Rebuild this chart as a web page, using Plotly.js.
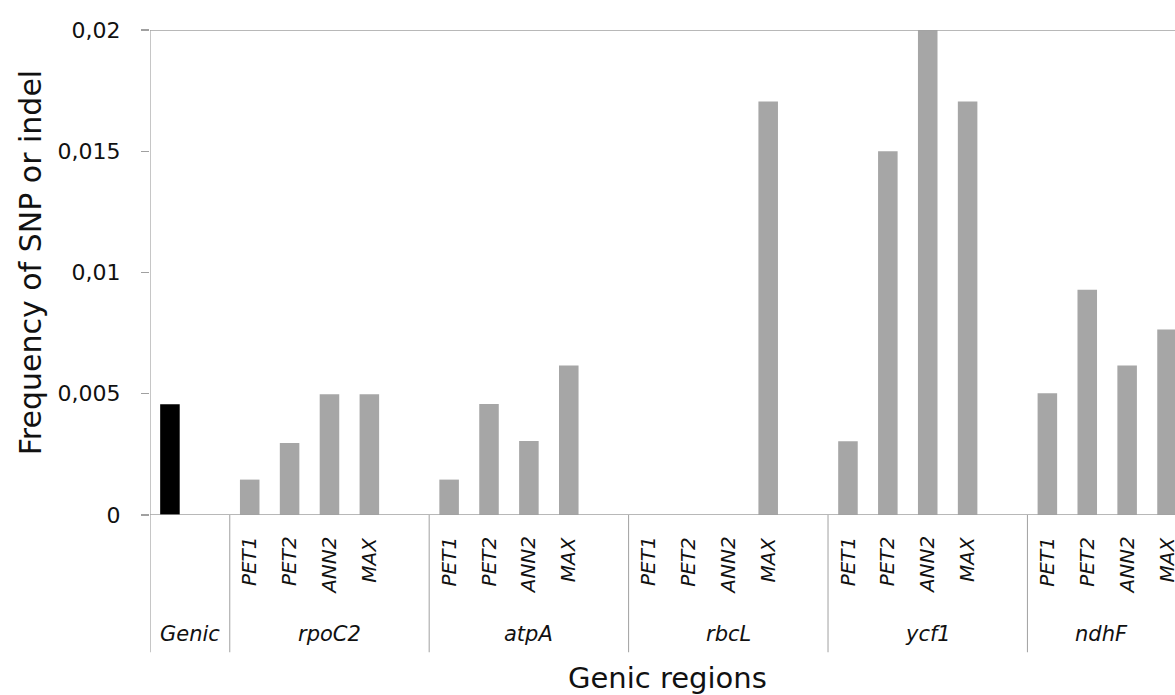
<!DOCTYPE html>
<html>
<head>
<meta charset="utf-8">
<script src="https://cdn.plot.ly/plotly-3.0.1.min.js"></script>
<style>html,body{margin:0;padding:0;background:#fff;}#chart{width:1175px;height:695px;}</style>
</head>
<body>
<div id="chart"></div>
<script>
// ---- data ----
var groupNames = ['rpoC2', 'atpA', 'rbcL', 'ycf1', 'ndhF'];
var subLabels = ['PET1', 'PET2', 'ANN2', 'MAX'];
var genicLabel = 'Genic';
var genicValue = [0.00457];
var rpoC2 = [0.00146, 0.00297, 0.00498, 0.00498];
var atpA = [0.00146, 0.00458, 0.00305, 0.00617];
var rbcL = [0, 0, 0, 0.01705];
var ycf1 = [0.00304, 0.0150, 0.0200, 0.01705];
var ndhF = [0.00502, 0.00929, 0.00617, 0.00765];
var yTickVals = [0, 0.005, 0.01, 0.015, 0.02];
var yTickText = ['0', '0,005', '0,01', '0,015', '0,02'];
var yTitle = 'Frequency of SNP or indel';
var xTitle = 'Genic regions';

var groupValues = [rpoC2, atpA, rbcL, ycf1, ndhF];

// ---- build ----
var FONT = 'DejaVu Sans';
var TXT = '#111111';
var LINE = '#a0a0a0';
var xMin = -0.5, xMax = 25.2;
var slotsPerGroup = 5;
var firstGroupSlot = 2;

var gx = [], gy = [];
var annotations = [];
var shapes = [];
var subY = -0.040;
var groupY = -0.246;
var divBottom = -0.283;

groupValues.forEach(function (vals, g) {
  vals.forEach(function (v, i) {
    var x = firstGroupSlot + g * slotsPerGroup + i;
    gx.push(x); gy.push(v);
    annotations.push({
      x: x, y: subY, xref: 'x', yref: 'paper', text: subLabels[i],
      showarrow: false, textangle: -90, xanchor: 'center', yanchor: 'top',
      font: {family: FONT, size: 20, style: 'italic', color: TXT}
    });
  });
  var lo = firstGroupSlot - 0.5 + g * slotsPerGroup;
  var hi = lo + slotsPerGroup;
  var c = (Math.max(lo, xMin) + Math.min(hi, xMax)) / 2;
  annotations.push({
    x: c, y: groupY, xref: 'x', yref: 'paper', text: groupNames[g],
    showarrow: false, xanchor: 'center', yanchor: 'middle',
    font: {family: FONT, size: 21, style: 'italic', color: TXT}
  });
  shapes.push({type: 'line', xref: 'x', yref: 'paper', x0: lo, x1: lo, y0: divBottom, y1: 0,
    line: {color: LINE, width: 1}});
});

annotations.push({
  x: 0.5, y: groupY, xref: 'x', yref: 'paper', text: genicLabel,
  showarrow: false, xanchor: 'center', yanchor: 'middle',
  font: {family: FONT, size: 21, style: 'italic', color: TXT}
});
annotations.push({
  x: -0.1171, y: 0.521, xref: 'paper', yref: 'paper', text: yTitle,
  showarrow: false, textangle: -90, xanchor: 'center', yanchor: 'middle',
  font: {family: FONT, size: 30, color: TXT}
});
annotations.push({
  x: 0.505, y: -0.337, xref: 'paper', yref: 'paper', text: xTitle,
  showarrow: false, xanchor: 'center', yanchor: 'middle',
  font: {family: FONT, size: 29, color: TXT}
});

// left axis line extended down, top line, zero line
shapes.push({type: 'line', xref: 'x', yref: 'paper', x0: xMin, x1: xMin, y0: divBottom, y1: 1,
  line: {color: LINE, width: 1.2}});
shapes.push({type: 'line', xref: 'paper', yref: 'y', x0: 0, x1: 1, y0: 0.02, y1: 0.02,
  line: {color: LINE, width: 1.4}});
shapes.push({type: 'line', xref: 'paper', yref: 'y', x0: 0, x1: 1, y0: 0, y1: 0,
  line: {color: LINE, width: 1.4}});

var traces = [
  {type: 'bar', x: [0], y: genicValue, width: 0.49,
   marker: {color: '#000000', line: {width: 0}}, hoverinfo: 'y', showlegend: false},
  {type: 'bar', x: gx, y: gy, width: 0.49,
   marker: {color: '#a6a6a6', line: {width: 0}}, hoverinfo: 'y', showlegend: false}
];

var layout = {
  width: 1175, height: 695,
  margin: {l: 150, r: 0, t: 30, b: 180, pad: 0},
  paper_bgcolor: '#ffffff', plot_bgcolor: '#ffffff',
  showlegend: false,
  xaxis: {range: [xMin, xMax], showticklabels: false, showgrid: false, zeroline: false,
          showline: false, ticks: '', fixedrange: true},
  yaxis: {range: [0, 0.02], tickvals: yTickVals, ticktext: yTickText,
          ticks: 'outside', ticklen: 8, tickcolor: LINE, tickwidth: 1.2,
          ticklabelstandoff: 16,
          showline: false, showgrid: false, zeroline: false, fixedrange: true,
          tickfont: {family: FONT, size: 22, color: TXT}},
  annotations: annotations,
  shapes: shapes
};

Plotly.newPlot('chart', traces, layout, {displayModeBar: false, staticPlot: true});
</script>
</body>
</html>
